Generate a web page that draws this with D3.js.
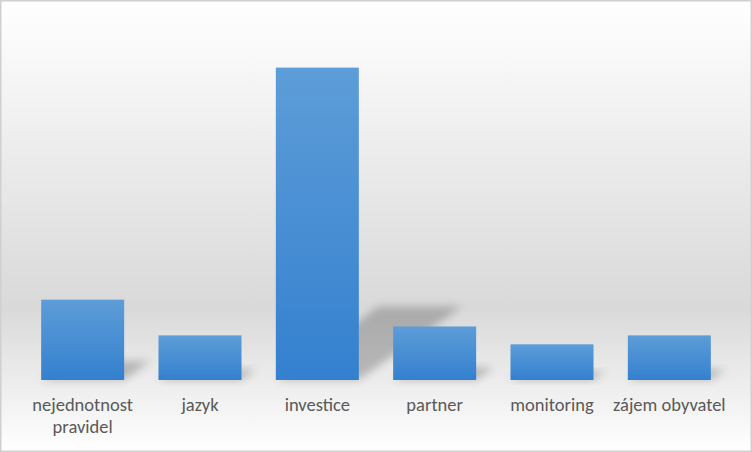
<!DOCTYPE html>
<html>
<head>
<meta charset="utf-8">
<script src="https://cdn.jsdelivr.net/npm/d3@7"></script>
<style>
  html, body { margin: 0; padding: 0; background: #ffffff; }
  svg { display: block; }
</style>
</head>
<body>
<svg id="chart" width="752" height="452"></svg>
<script>
const categories = ["nejednotnost pravidel", "jazyk", "investice", "partner", "monitoring", "zájem obyvatel"];
const values = [9, 5, 35, 6, 4, 5];
const yDomain = [0, 40];

const W = 752, H = 452;
const svg = d3.select("#chart");
const defs = svg.append("defs");

const bg = defs.append("linearGradient").attr("id", "bgGrad")
  .attr("x1", 0).attr("y1", 0).attr("x2", 0).attr("y2", 1);
bg.append("stop").attr("offset", "0%").attr("stop-color", "#ffffff");
bg.append("stop").attr("offset", "68%").attr("stop-color", "#d9d9d9");
bg.append("stop").attr("offset", "100%").attr("stop-color", "#ffffff");

const barGrad = defs.append("linearGradient").attr("id", "barGrad")
  .attr("x1", 0).attr("y1", 0).attr("x2", 0).attr("y2", 1);
barGrad.append("stop").attr("offset", "0%").attr("stop-color", "#5d9dd8");
barGrad.append("stop").attr("offset", "100%").attr("stop-color", "#3480cf");

const blur = defs.append("filter").attr("id", "shadowBlur")
  .attr("x", "-50%").attr("y", "-50%").attr("width", "200%").attr("height", "200%");
blur.append("feGaussianBlur").attr("stdDeviation", 4);

svg.append("rect").attr("x", 0).attr("y", 0).attr("width", W).attr("height", H)
  .attr("fill", "url(#bgGrad)");
svg.append("rect").attr("x", 0.75).attr("y", 0.75).attr("width", W - 1.5).attr("height", H - 1.5)
  .attr("fill", "none").attr("stroke", "#d0d0d0").attr("stroke-width", 1.5);

const x = d3.scaleBand().domain(categories).range([24, 728])
  .paddingInner(0.2926).paddingOuter(0.1463);
const y = d3.scaleLinear().domain(yDomain).range([380, 23]);

const data = categories.map((c, i) => ({ c, v: values[i] }));
const base = y(0);
const bw = x.bandwidth();
const k = 0.33, s = 0.235;

// perspective shadows
svg.append("g").selectAll("path").data(data).join("path")
  .attr("d", d => {
    const x0 = x(d.c), x1 = x0 + bw, h = base - y(d.v);
    return `M${x0},${base}L${x1},${base}L${x1 + k * h},${base - s * h}L${x0 + k * h},${base - s * h}Z`;
  })
  .attr("fill", "#000").attr("fill-opacity", 0.22)
  .attr("filter", "url(#shadowBlur)");

svg.append("g").selectAll("rect").data(data).join("rect")
  .attr("x", d => x(d.c)).attr("y", d => y(d.v))
  .attr("width", bw).attr("height", d => base - y(d.v))
  .attr("fill", "url(#barGrad)");

const axis = svg.append("g").attr("transform", `translate(0,${base})`)
  .call(d3.axisBottom(x).tickSize(0).tickPadding(0));
axis.select(".domain").remove();
axis.selectAll("text")
  .attr("fill", "#595959")
  .style("font-family", "Carlito, Lato, 'Open Sans', sans-serif")
  .style("font-size", "18.5px")
  .attr("dy", null)
  .attr("y", 31)
  .each(function (d) {
    const t = d3.select(this);
    const full = t.text();
    if (this.getComputedTextLength() > x.step() - 2) {
      const words = full.split(" ");
      t.text(null);
      words.forEach((w, i) => {
        t.append("tspan").attr("x", 0).attr("y", 31 + i * 22).text(w);
      });
    }
  });
</script>
</body>
</html>
